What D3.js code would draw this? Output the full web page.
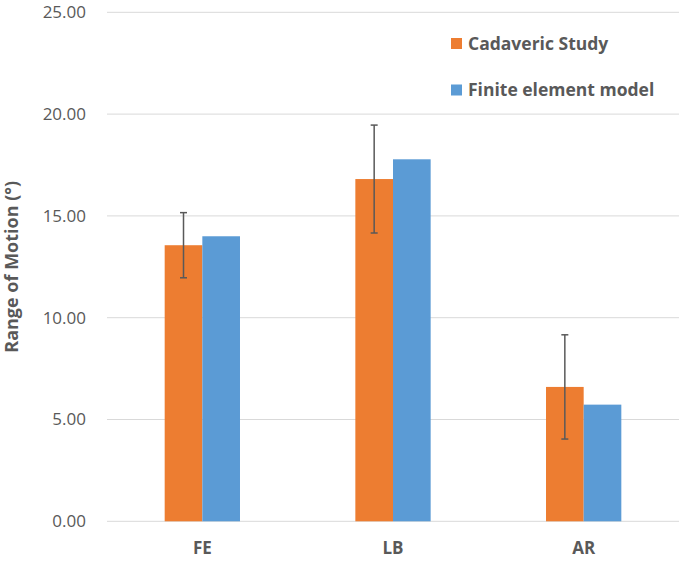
<!DOCTYPE html>
<html><head><meta charset="utf-8">
<script src="https://cdn.jsdelivr.net/npm/d3@7"></script>
<style>body{margin:0;background:#fff;}svg{display:block;font-family:"Open Sans",sans-serif;}</style>
</head><body>
<svg id="c" width="685" height="562"></svg>
<script>
const categories = ["FE", "LB", "AR"];
const seriesNames = ["Cadaveric Study", "Finite element model"];
const cadaveric = [13.56, 16.81, 6.60];
const cadavericErr = [1.60, 2.65, 2.56];
const finiteElement = [14.0, 17.78, 5.73];
const yTicks = [0, 5, 10, 15, 20, 25];
const colors = ["#ED7D31", "#5B9BD5"];

(function () {
const svg = d3.select("#c");
const pL = 107, pR = 679, pT = 12.3, pB = 521.3;
const y = d3.scaleLinear().domain([0, 25]).range([pB, pT]);
const x = d3.scaleBand().domain(categories).range([pL, pR]).paddingInner(0.605).paddingOuter(0.3025);
const xs = d3.scaleBand().domain(seriesNames).range([0, x.bandwidth()]);

// gridlines
svg.append("g").selectAll("line").data(yTicks).join("line")
  .attr("x1", pL).attr("x2", pR)
  .attr("y1", d => y(d)).attr("y2", d => y(d))
  .attr("stroke", "#d9d9d9").attr("stroke-width", 1);

// y axis labels
const yAxis = svg.append("g").attr("transform", `translate(${pL},0)`)
  .call(d3.axisLeft(y).tickValues(yTicks).tickFormat(d3.format(".2f")).tickSize(0).tickPadding(21));
yAxis.select(".domain").remove();
yAxis.selectAll("text").attr("font-size", 17).attr("fill", "#595959").attr("font-family", "Open Sans, sans-serif");

// bars
const data = categories.map((c, i) => ({ c, vals: [cadaveric[i], finiteElement[i]] }));
const groups = svg.append("g").selectAll("g").data(data).join("g")
  .attr("transform", d => `translate(${x(d.c)},0)`);
groups.selectAll("rect").data(d => d.vals.map((v, j) => ({ v, s: seriesNames[j], j }))).join("rect")
  .attr("x", d => xs(d.s)).attr("width", xs.bandwidth())
  .attr("y", d => y(d.v)).attr("height", d => y(0) - y(d.v))
  .attr("fill", d => colors[d.j]);

// error bars
const eb = svg.append("g").attr("stroke", "#595959").attr("stroke-width", 1.5);
categories.forEach((c, i) => {
  const cx = x(c) + xs(seriesNames[0]) + xs.bandwidth() / 2;
  const y1 = y(cadaveric[i] + cadavericErr[i]), y2 = y(cadaveric[i] - cadavericErr[i]);
  eb.append("line").attr("x1", cx).attr("x2", cx).attr("y1", y1).attr("y2", y2);
  eb.append("line").attr("x1", cx - 3.5).attr("x2", cx + 3.5).attr("y1", y1).attr("y2", y1);
  eb.append("line").attr("x1", cx - 3.5).attr("x2", cx + 3.5).attr("y1", y2).attr("y2", y2);
});

// x axis labels
const xAxis = svg.append("g").attr("transform", `translate(0,${pB})`)
  .call(d3.axisBottom(x).tickSize(0).tickPadding(21));
xAxis.select(".domain").remove();
xAxis.selectAll("text").attr("font-size", 17).attr("font-weight", "bold").attr("fill", "#595959").attr("font-family", "Open Sans, sans-serif");

// y title
svg.append("text").attr("transform", `translate(18,${(pT + pB) / 2}) rotate(-90)`)
  .attr("text-anchor", "middle").attr("font-size", 18).attr("font-weight", "bold").attr("fill", "#595959")
  .text("Range of Motion (°)");

// legend
const lg = svg.append("g");
seriesNames.forEach((s, i) => {
  const yy = 38 + i * 46.5;
  lg.append("rect").attr("x", 451).attr("y", yy).attr("width", 11).attr("height", 11).attr("fill", colors[i]);
  lg.append("text").attr("x", 468).attr("y", yy + 11.5).attr("font-size", 17.5).attr("font-weight", "bold")
    .attr("fill", "#595959").text(s);
});
})();
</script>
</body></html>
